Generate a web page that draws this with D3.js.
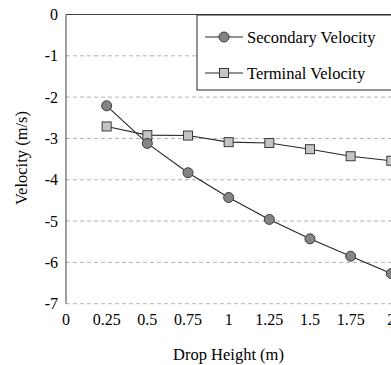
<!DOCTYPE html>
<html><head><meta charset="utf-8">
<script src="https://cdn.jsdelivr.net/npm/d3@7"></script>
<style>body{margin:0;background:#fff}svg{display:block}</style>
</head><body><svg id="c" width="391" height="365"></svg>
<script>
const heights = [0.25, 0.5, 0.75, 1, 1.25, 1.5, 1.75, 2];
const secondary = [-2.21, -3.12, -3.83, -4.43, -4.96, -5.43, -5.85, -6.27];
const terminal = [-2.71, -2.92, -2.93, -3.09, -3.11, -3.26, -3.43, -3.54];
const xTicks = [0, 0.25, 0.5, 0.75, 1, 1.25, 1.5, 1.75, 2];
const yTicks = [0, -1, -2, -3, -4, -5, -6, -7];
const seriesNames = ["Secondary Velocity", "Terminal Velocity"];

const FONT = "'Liberation Serif', 'Times New Roman', 'DejaVu Serif', serif";
const svg = d3.select("#c");
const L = 66, R = 391.3, T = 14.5, B = 303.7;
const x = d3.scaleLinear().domain([0, 2]).range([L, R]);
const y = d3.scaleLinear().domain([0, -7]).range([T, B]);

// grid
svg.append("g").selectAll("line").data(yTicks.filter(d => d !== 0)).join("line")
  .attr("x1", L).attr("x2", 391).attr("y1", d => y(d)).attr("y2", d => y(d))
  .attr("stroke", "#b3b3b3").attr("stroke-width", 1).attr("stroke-dasharray", "4,3");
// axis lines
svg.append("line").attr("x1", L).attr("x2", 391).attr("y1", y(0)).attr("y2", y(0)).attr("stroke", "#404040");
svg.append("line").attr("x1", L).attr("x2", L).attr("y1", T).attr("y2", B).attr("stroke", "#404040");

// tick labels
svg.append("g").selectAll("text").data(yTicks).join("text")
  .attr("x", 58).attr("y", d => y(d)).attr("dy", "0.35em").attr("text-anchor", "end")
  .style("font-family", FONT).style("font-size", "16px").text(d => d);
svg.append("g").selectAll("text").data(xTicks).join("text")
  .attr("x", d => x(d)).attr("y", 319).attr("dy", "0.35em").attr("text-anchor", "middle")
  .style("font-family", FONT).style("font-size", "16px").text(d => d);

// axis titles
svg.append("text").attr("transform", "translate(21,158) rotate(-90)").attr("text-anchor", "middle")
  .attr("dy", "0.35em").style("font-family", FONT).style("font-size", "16.5px").text("Velocity (m/s)");
svg.append("text").attr("x", 228.5).attr("y", 354).attr("text-anchor", "middle")
  .attr("dy", "0.35em").style("font-family", FONT).style("font-size", "16.5px").text("Drop Height (m)");

const line = d3.line().x(d => x(d[0])).y(d => y(d[1]));
const sData = heights.map((h, i) => [h, secondary[i]]);
const tData = heights.map((h, i) => [h, terminal[i]]);

svg.append("path").datum(tData).attr("d", line).attr("fill", "none").attr("stroke", "#262626").attr("stroke-width", 1.1);
svg.append("path").datum(sData).attr("d", line).attr("fill", "none").attr("stroke", "#262626").attr("stroke-width", 1.1);

svg.append("g").selectAll("rect").data(tData).join("rect")
  .attr("x", d => x(d[0]) - 4.5).attr("y", d => y(d[1]) - 4.5).attr("width", 9).attr("height", 9)
  .attr("fill", "#c4c4c4").attr("stroke", "#3a3a3a").attr("stroke-width", 1);
svg.append("g").selectAll("circle").data(sData).join("circle")
  .attr("cx", d => x(d[0])).attr("cy", d => y(d[1])).attr("r", 5)
  .attr("fill", "#858585").attr("stroke", "#3a3a3a").attr("stroke-width", 1);

// legend
const lg = svg.append("g");
lg.append("rect").attr("x", 197).attr("y", 15).attr("width", 195).attr("height", 75)
  .attr("fill", "#fff").attr("stroke", "#262626").attr("stroke-width", 1);
const ly = [37, 73];
seriesNames.forEach((n, i) => {
  lg.append("line").attr("x1", 205).attr("x2", 243).attr("y1", ly[i]).attr("y2", ly[i]).attr("stroke", "#262626").attr("stroke-width", 1.1);
  if (i === 0) lg.append("circle").attr("cx", 224).attr("cy", ly[i]).attr("r", 5).attr("fill", "#858585").attr("stroke", "#3a3a3a");
  else lg.append("rect").attr("x", 219.5).attr("y", ly[i] - 4.5).attr("width", 9).attr("height", 9).attr("fill", "#c4c4c4").attr("stroke", "#3a3a3a");
  lg.append("text").attr("x", 247).attr("y", ly[i]).attr("dy", "0.35em").style("font-family", FONT).style("font-size", "16.5px").text(n);
});
</script></body></html>
